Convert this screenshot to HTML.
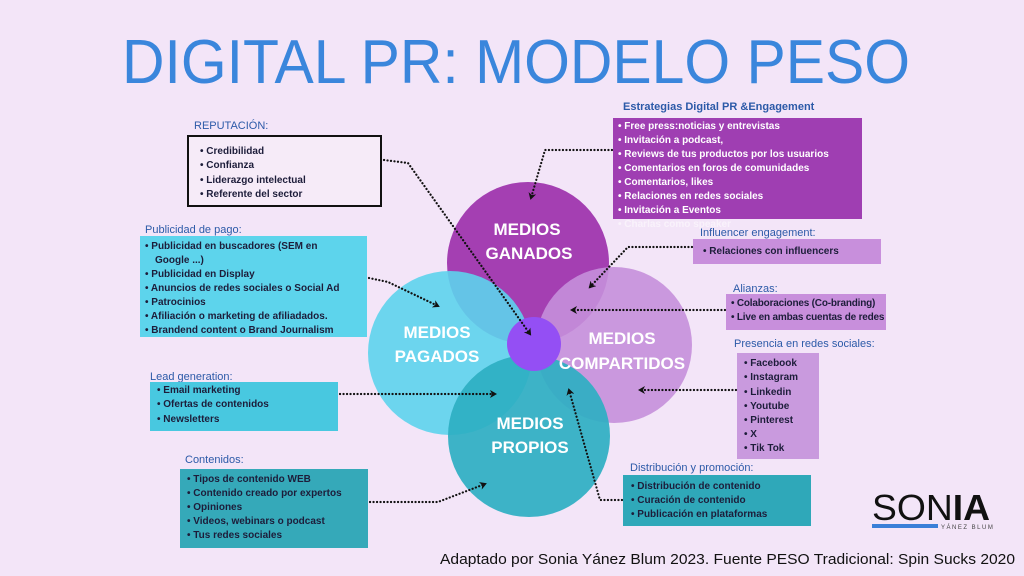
<!DOCTYPE html>
<html><head><meta charset="utf-8"><style>
html,body{margin:0;padding:0;background:#f3e5f8;}
svg{display:block;font-family:"Liberation Sans",sans-serif;}
.lb{font-size:11px;fill:#2c5aa8;}
.it{font-size:10px;font-weight:bold;fill:#1d1d3a;}
.wt{font-size:10px;font-weight:bold;fill:#fff;}
.ct{font-size:17px;fill:#fff;text-anchor:middle;font-weight:600;}
.dl{fill:none;stroke:#111;stroke-width:2.2;stroke-dasharray:0.1 3.4;stroke-linecap:round;}
</style></head><body>
<svg width="1024" height="576" viewBox="0 0 1024 576" xmlns="http://www.w3.org/2000/svg">
<defs><marker id="a" markerWidth="8" markerHeight="8" refX="5" refY="4" orient="auto" markerUnits="userSpaceOnUse"><path d="M0,0 L7,4 L0,8 L2,4 Z" fill="#111"/></marker></defs>
<rect width="1024" height="576" fill="#f3e5f8"/>
<text x="516" y="83" font-size="62" fill="#3a86dc" text-anchor="middle" textLength="788" lengthAdjust="spacingAndGlyphs">DIGITAL PR: MODELO PESO</text>

<circle cx="528" cy="263" r="81" fill="#a43fb2"/>
<circle cx="614" cy="345" r="78" fill="#c58fda" opacity="0.9"/>
<circle cx="450" cy="353" r="82" fill="#5dd3ec" opacity="0.9"/>
<circle cx="529" cy="436" r="81" fill="#2eafc2" opacity="0.92"/>
<circle cx="534" cy="344" r="27" fill="#944ff4"/>
<text class="ct" x="527" y="235">MEDIOS</text><text class="ct" x="529" y="259">GANADOS</text>
<text class="ct" x="437" y="338">MEDIOS</text><text class="ct" x="437" y="362">PAGADOS</text>
<text class="ct" x="622" y="344">MEDIOS</text><text class="ct" x="622" y="369">COMPARTIDOS</text>
<text class="ct" x="530" y="429">MEDIOS</text><text class="ct" x="530" y="453">PROPIOS</text>

<text class="lb" x="194" y="129">REPUTACIÓN:</text>
<rect x="188" y="136" width="193" height="70" fill="#f6ebf8" stroke="#111" stroke-width="2"/>
<g class="it"><text x="200" y="154">•  Credibilidad</text><text x="200" y="168">•  Confianza</text><text x="200" y="183">•  Liderazgo intelectual</text><text x="200" y="197">•  Referente del sector</text></g>

<text class="lb" x="145" y="233">Publicidad de pago:</text>
<rect x="140" y="236" width="227" height="101" fill="#5dd4ec"/>
<g class="it"><text x="145" y="249">•  Publicidad en buscadores (SEM en</text><text x="155" y="263">Google ...)</text><text x="145" y="277">•  Publicidad en Display</text><text x="145" y="291">•  Anuncios de redes sociales o Social Ad</text><text x="145" y="305">•  Patrocinios</text><text x="145" y="319">•  Afiliación o marketing de afiliadados.</text><text x="145" y="333">•  Brandend content o Brand Journalism</text></g>

<text class="lb" x="150" y="380">Lead generation:</text>
<rect x="150" y="382" width="188" height="49" fill="#48c8e0"/>
<g class="it"><text x="157" y="393">•  Email marketing</text><text x="157" y="407">•  Ofertas de contenidos</text><text x="157" y="422">•  Newsletters</text></g>

<text class="lb" x="185" y="463">Contenidos:</text>
<rect x="180" y="469" width="188" height="79" fill="#35a9b9"/>
<g class="it"><text x="187" y="482">•  Tipos de contenido WEB</text><text x="187" y="496">•  Contenido creado por expertos</text><text x="187" y="510">•  Opiniones</text><text x="187" y="524">•  Videos, webinars o podcast</text><text x="187" y="538">•  Tus redes sociales</text></g>

<text class="lb" x="623" y="110" font-weight="bold">Estrategias Digital PR &amp;Engagement</text>
<rect x="613" y="118" width="249" height="101" fill="#9f3eb2"/>
<g class="wt"><text x="618" y="129">•  Free press:noticias y entrevistas</text><text x="618" y="143">•  Invitación a podcast,</text><text x="618" y="157">•  Reviews de tus productos por los usuarios</text><text x="618" y="171">•  Comentarios en foros de comunidades</text><text x="618" y="185">•  Comentarios, likes</text><text x="618" y="199">•  Relaciones en redes sociales</text><text x="618" y="213">•  Invitación a Eventos</text><text x="618" y="227" opacity="0.5">•  Charlas como speaker</text></g>

<text class="lb" x="700" y="236">Influencer engagement:</text>
<rect x="693" y="239" width="188" height="25" fill="#c88fdc"/>
<text class="it" x="703" y="254">•  Relaciones con influencers</text>

<text class="lb" x="733" y="292">Alianzas:</text>
<rect x="726" y="294" width="160" height="36" fill="#c88fdc"/>
<g class="it" letter-spacing="-0.2"><text x="731" y="306">•  Colaboraciones (Co-branding)</text><text x="731" y="320">•  Live en ambas cuentas de redes</text></g>

<text class="lb" x="734" y="347">Presencia en redes sociales:</text>
<rect x="737" y="353" width="82" height="106" fill="#c99ade"/>
<g class="it"><text x="744" y="366">•  Facebook</text><text x="744" y="380">•  Instagram</text><text x="744" y="395">•  Linkedin</text><text x="744" y="409">•  Youtube</text><text x="744" y="423">•  Pinterest</text><text x="744" y="437">•  X</text><text x="744" y="451">•  Tik Tok</text></g>

<text class="lb" x="630" y="471">Distribución y promoción:</text>
<rect x="623" y="475" width="188" height="51" fill="#2fa8b9"/>
<g class="it"><text x="631" y="489">•  Distribución de contenido</text><text x="631" y="503">•  Curación de contenido</text><text x="631" y="517">•  Publicación en plataformas</text></g>

<path class="dl" d="M384,160 L408,163 L530,334" marker-end="url(#a)"/>
<path class="dl" d="M612,150 L545,150 L531,198" marker-end="url(#a)"/>
<path class="dl" d="M369,278 L388,282 L438,306" marker-end="url(#a)"/>
<path class="dl" d="M692,247 L628,247 L590,287" marker-end="url(#a)"/>
<path class="dl" d="M725,310 L572,310" marker-end="url(#a)"/>
<path class="dl" d="M736,390 L640,390" marker-end="url(#a)"/>
<path class="dl" d="M340,394 L495,394" marker-end="url(#a)"/>
<path class="dl" d="M370,502 L438,502 L485,484" marker-end="url(#a)"/>
<path class="dl" d="M622,500 L600,500 L569,390" marker-end="url(#a)"/>

<text x="872" y="520" font-size="36" fill="#111" textLength="118" lengthAdjust="spacingAndGlyphs">SON<tspan font-weight="bold">IA</tspan></text>
<rect x="872" y="524" width="66" height="4" fill="#3a7fd8"/>
<text x="941" y="529" font-size="6" fill="#444" letter-spacing="1.5">YÁNEZ BLUM</text>

<text x="1015" y="564" font-size="15" fill="#111" text-anchor="end" textLength="575" lengthAdjust="spacingAndGlyphs">Adaptado por Sonia Yánez Blum 2023. Fuente PESO Tradicional: Spin Sucks 2020</text>
</svg>
</body></html>
